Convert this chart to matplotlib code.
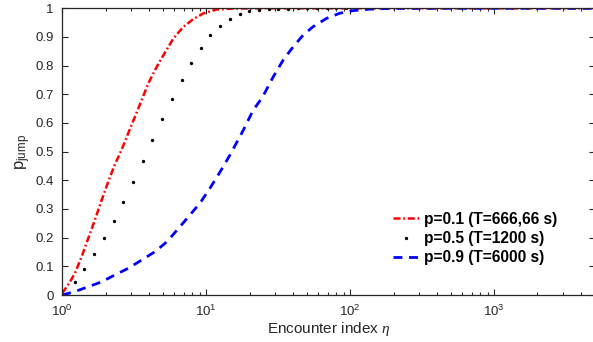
import matplotlib
matplotlib.use('Agg')
import matplotlib.pyplot as plt
from matplotlib.ticker import FixedLocator, LogLocator, NullFormatter

plt.rcParams['font.family'] = ['Liberation Sans', 'DejaVu Sans']
plt.rcParams['mathtext.fontset'] = 'custom'
plt.rcParams['mathtext.rm'] = 'Liberation Sans'
plt.rcParams['mathtext.it'] = 'Liberation Serif:italic'

# p = 0.1 (T=666,66 s), red dash-dot
eta_red = [1.0, 1.131, 1.225, 1.364, 1.516, 1.686, 1.878, 2.085, 2.32, 2.6,
           2.87, 3.2, 3.56, 3.96, 4.4, 4.9, 5.9, 6.92, 8.12, 9.53, 11.8,
           15.4, 25.0, 5000.0]
p_red = [0.006, 0.046, 0.076, 0.134, 0.198, 0.262, 0.331, 0.395, 0.455, 0.51,
         0.564, 0.622, 0.68, 0.738, 0.784, 0.826, 0.894, 0.935, 0.962, 0.982,
         0.996, 0.999, 1.0, 1.0]

# p = 0.5 (T=1200 s), black dots
eta_dot = [1.225, 1.42, 1.67, 1.95, 2.27, 2.65, 3.1, 3.62, 4.22, 4.92,
           5.78, 6.75, 7.87, 9.19, 10.7, 12.5, 14.6, 17.1, 19.9, 23.2,
           27.1, 31.6, 36.9, 43.1, 50.3, 58.7, 68.5, 80.0, 93.3]
p_dot = [0.044, 0.092, 0.142, 0.198, 0.259, 0.325, 0.394, 0.466, 0.541, 0.614,
         0.684, 0.75, 0.81, 0.863, 0.906, 0.938, 0.963, 0.979, 0.99, 0.994,
         0.997, 0.998, 0.999, 1.0, 1.0, 1.0, 1.0, 1.0, 1.0]

# p = 0.9 (T=6000 s), blue dashed
eta_blue = [1.0, 1.225, 1.516, 1.878, 2.32, 2.87, 3.56, 4.4, 5.17, 5.6,
            6.56, 7.7, 9.04, 10.6, 12.5, 14.6, 18.1, 21.2, 24.6, 29.2,
            34.3, 40.2, 47.2, 55.3, 68.6, 84.8, 105.0, 137.0, 200.0, 5000.0]
p_blue = [0.0, 0.012, 0.029, 0.046, 0.07, 0.093, 0.122, 0.151, 0.18, 0.198,
          0.238, 0.279, 0.32, 0.372, 0.43, 0.488, 0.575, 0.645, 0.69, 0.761,
          0.82, 0.866, 0.907, 0.936, 0.965, 0.983, 0.992, 0.997, 1.0, 1.0]

labels = ['p=0.1 (T=666,66 s)', 'p=0.5 (T=1200 s)', 'p=0.9 (T=6000 s)']
yticks = [0, 0.1, 0.2, 0.3, 0.4, 0.5, 0.6, 0.7, 0.8, 0.9, 1]

fig = plt.figure(figsize=(5.93, 3.42), dpi=100)
ax = fig.add_axes([0.105, 0.1374, 0.898, 0.8383])

ax.semilogx(eta_red, p_red, color='red', lw=1.8, dashes=(2.8, 1.1, 0.7, 1.1),
            label=labels[0])
ax.semilogx(eta_dot, p_dot, 'k.', ms=2.8, label=labels[1])
ax.semilogx(eta_blue, p_blue, color='blue', lw=2.0, dashes=(3.2, 2.4),
            label=labels[2])

ax.set_xlim(1, 5000)
ax.set_ylim(0, 1)
ax.set_yticks(yticks)
ax.set_yticklabels(['0', '0.1', '0.2', '0.3', '0.4', '0.5', '0.6', '0.7',
                    '0.8', '0.9', '1'])
ax.xaxis.set_major_locator(FixedLocator([1, 10, 100, 1000]))
ax.xaxis.set_minor_locator(LogLocator(base=10, subs=range(2, 10), numticks=20))
ax.xaxis.set_minor_formatter(NullFormatter())

ax.tick_params(which='both', direction='in', top=True, right=True,
               colors='#262626', labelsize=9.5, width=0.8)
ax.tick_params(which='major', length=4)
ax.tick_params(which='minor', length=2.5)
ax.tick_params(axis='x', which='major', pad=6)
ax.tick_params(axis='y', which='major', pad=6)
for s in ax.spines.values():
    s.set_color('#262626')
    s.set_linewidth(0.9)

ax.set_xlabel(r'Encounter index $\eta$', fontsize=11, color='#262626',
              labelpad=1)
ax.set_ylabel(r'p$_{\rm jump}$', fontsize=12, color='#262626', labelpad=2)

leg = ax.legend(loc='upper left', bbox_to_anchor=(0.621, 0.29), frameon=False,
                prop={'weight': 'bold', 'size': 11.2}, handlelength=1.65,
                handletextpad=0.35, labelspacing=0.27, borderpad=0,
                borderaxespad=0, markerscale=1.0)

fig.savefig('out.png', dpi=100)
